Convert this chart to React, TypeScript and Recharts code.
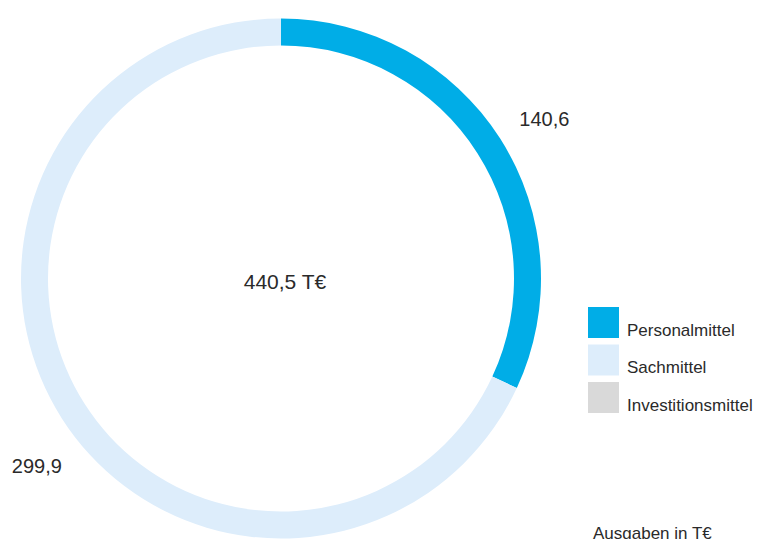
import React from "react";
import { PieChart, Pie, Cell, Legend } from "recharts";

const categories = ["Personalmittel", "Sachmittel", "Investitionsmittel"];
const values = [140.6, 299.9, 0];
const valueLabels = ["140,6", "299,9", ""];
const totalLabel = "440,5 T€";
const unitNote = "Ausgaben in T€";
const colors = ["#00ade7", "#ddedfb", "#d9d9d9"];

const data = categories.map((name, i) => ({ name, value: values[i], label: valueLabels[i] }));

const FONT = "'Liberation Sans', Arial, sans-serif";
const TEXT = "#2a2a2a";
const RAD = Math.PI / 180;
const angleNudge = [-1.3, 5, 0];

const renderLabel = (p: any) => {
  const { cx, cy, midAngle, outerRadius, index } = p;
  if (!values[index]) return null;
  const a = (midAngle + angleNudge[index]) * RAD;
  const r = outerRadius + 48;
  const x = cx + r * Math.cos(a);
  const y = cy - r * Math.sin(a);
  return (
    <g>
      <text x={x} y={y} textAnchor="middle" dominantBaseline="central" fill={TEXT} fontSize={20} fontFamily={FONT}>
        {valueLabels[index]}
      </text>
      {index === 0 && (
        <text x={cx + 4} y={cy + 3} textAnchor="middle" dominantBaseline="central" fill={TEXT} fontSize={21} fontFamily={FONT}>
          {totalLabel}
        </text>
      )}
    </g>
  );
};

const renderLegend = () => (
  <svg width={180} height={110}>
    {categories.map((c, i) => (
      <g key={c}>
        <rect x={0} y={i * 37.5} width={31} height={31} fill={colors[i]} />
        <text x={39} y={i * 37.5 + 28.5} fontSize={17} fontFamily={FONT} fill={TEXT}>
          {c}
        </text>
      </g>
    ))}
  </svg>
);

export default function App() {
  return (
    <div style={{ position: "absolute", left: 0, top: 0, width: 769, height: 539, background: "#fff", fontFamily: FONT }}>
      <PieChart width={769} height={539} margin={{ top: 0, right: 0, bottom: 0, left: 0 }}>
        <Pie
          data={data}
          dataKey="value"
          nameKey="name"
          cx={281}
          cy={278.5}
          innerRadius={233}
          outerRadius={260}
          startAngle={90}
          endAngle={-270}
          stroke="none"
          isAnimationActive={false}
          label={renderLabel}
          labelLine={false}
        >
          {data.map((d, i) => (
            <Cell key={d.name} fill={colors[i]} />
          ))}
        </Pie>
        <Legend
          layout="vertical"
          align="right"
          verticalAlign="middle"
          content={renderLegend}
          wrapperStyle={{ position: "absolute", left: 588, top: 307, width: 180, height: 110 }}
        />
      </PieChart>
      <div
        style={{
          position: "absolute",
          left: 593,
          top: 524,
          fontSize: 17,
          lineHeight: "20px",
          color: TEXT,
          fontFamily: FONT,
          whiteSpace: "nowrap",
        }}
      >
        {unitNote}
      </div>
    </div>
  );
}
